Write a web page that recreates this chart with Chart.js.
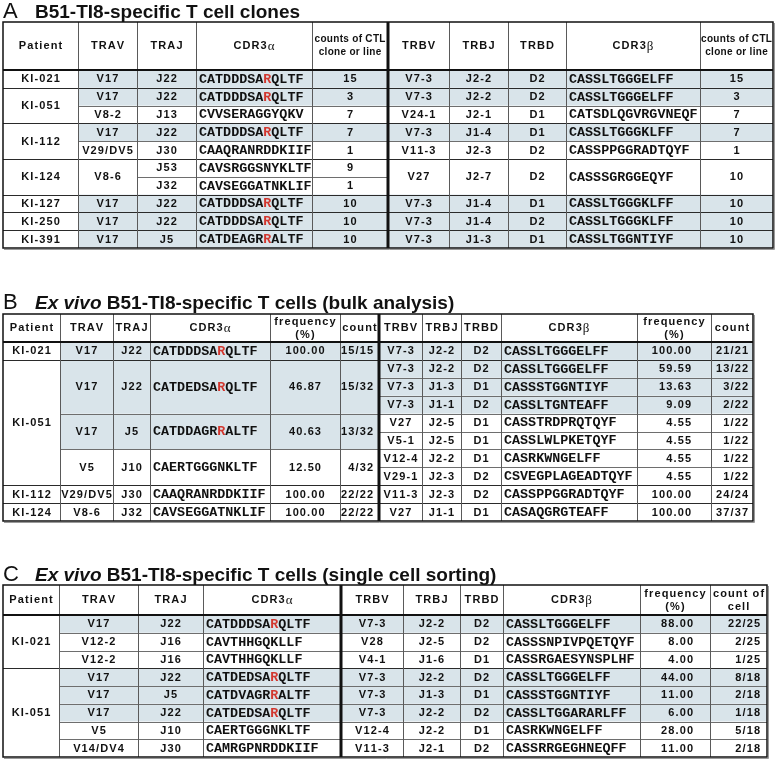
<!DOCTYPE html>
<html><head><meta charset="utf-8">
<script src="https://cdn.jsdelivr.net/npm/chart.js@4/dist/chart.umd.min.js"></script>
<style>html,body{margin:0;padding:0;background:#fff}canvas{display:block}</style>
</head><body>
<canvas id="c" width="775" height="761"></canvas>
<script>
// ================= DATA =================
// ---- Panel A : B51-TI8-specific T cell clones ----
const titleA = ["A", "", "B51-TI8-specific T cell clones"];
const headersA = ["Patient","TRAV","TRAJ","CDR3α","counts of CTL\nclone or line","TRBV","TRBJ","TRBD","CDR3β","counts of CTL\nclone or line"];
const patientA = ["KI-021","KI-051",null,"KI-112",null,"KI-124",null,"KI-127","KI-250","KI-391"];
const travA    = ["V17","V17","V8-2","V17","V29/DV5","V8-6",null,"V17","V17","V17"];
const trajA    = ["J22","J22","J13","J22","J30","J53","J32","J22","J22","J5"];
const cdr3aA   = ["CATDDDSARQLTF","CATDDDSARQLTF","CVVSERAGGYQKV","CATDDDSARQLTF","CAAQRANRDDKIIF","CAVSRGGSNYKLTF","CAVSEGGATNKLIF","CATDDDSARQLTF","CATDDDSARQLTF","CATDEAGRRALTF"];
const redA     = [8,8,-1,8,-1,-1,-1,8,8,8];
const countaA  = ["15","3","7","7","1","9","1","10","10","10"];
const trbvA    = ["V7-3","V7-3","V24-1","V7-3","V11-3","V27",null,"V7-3","V7-3","V7-3"];
const trbjA    = ["J2-2","J2-2","J2-1","J1-4","J2-3","J2-7",null,"J1-4","J1-4","J1-3"];
const trbdA    = ["D2","D2","D1","D1","D2","D2",null,"D1","D2","D1"];
const cdr3bA   = ["CASSLTGGGELFF","CASSLTGGGELFF","CATSDLQGVRGVNEQF","CASSLTGGGKLFF","CASSPPGGRADTQYF","CASSSGRGGEQYF",null,"CASSLTGGGKLFF","CASSLTGGGKLFF","CASSLTGGNTIYF"];
const countbA  = ["15","3","7","7","1","10",null,"10","10","10"];
const publicA  = [1,1,0,1,0,0,0,1,1,1];

// ---- Panel B : Ex vivo, bulk analysis ----
const titleB = ["B", "Ex vivo ", "B51-TI8-specific T cells (bulk analysis)"];
const headersB = ["Patient","TRAV","TRAJ","CDR3α","frequency\n(%)","count","TRBV","TRBJ","TRBD","CDR3β","frequency\n(%)","count"];
const patientB = ["KI-021","KI-051",null,null,null,null,null,null,"KI-112","KI-124"];
const travB    = ["V17","V17",null,null,"V17",null,"V5",null,"V29/DV5","V8-6"];
const trajB    = ["J22","J22",null,null,"J5",null,"J10",null,"J30","J32"];
const cdr3aB   = ["CATDDDSARQLTF","CATDEDSARQLTF",null,null,"CATDDAGRRALTF",null,"CAERTGGGNKLTF",null,"CAAQRANRDDKIIF","CAVSEGGATNKLIF"];
const redB     = [8,8,-1,-1,8,-1,-1,-1,-1,-1];
const freqaB   = ["100.00","46.87",null,null,"40.63",null,"12.50",null,"100.00","100.00"];
const countaB  = ["15/15","15/32",null,null,"13/32",null,"4/32",null,"22/22","22/22"];
const publicAlphaB = [1,1,1,1,1,1,0,0,0,0];
const trbvB    = ["V7-3","V7-3","V7-3","V7-3","V27","V5-1","V12-4","V29-1","V11-3","V27"];
const trbjB    = ["J2-2","J2-2","J1-3","J1-1","J2-5","J2-5","J2-2","J2-3","J2-3","J1-1"];
const trbdB    = ["D2","D2","D1","D2","D1","D1","D1","D2","D2","D1"];
const cdr3bB   = ["CASSLTGGGELFF","CASSLTGGGELFF","CASSSTGGNTIYF","CASSLTGNTEAFF","CASSTRDPRQTQYF","CASSLWLPKETQYF","CASRKWNGELFF","CSVEGPLAGEADTQYF","CASSPPGGRADTQYF","CASAQGRGTEAFF"];
const freqbB   = ["100.00","59.59","13.63","9.09","4.55","4.55","4.55","4.55","100.00","100.00"];
const countbB  = ["21/21","13/22","3/22","2/22","1/22","1/22","1/22","1/22","24/24","37/37"];
const publicBetaB = [1,1,1,1,0,0,0,0,0,0];

// ---- Panel C : Ex vivo, single cell sorting ----
const titleC = ["C", "Ex vivo ", "B51-TI8-specific T cells (single cell sorting)"];
const headersC = ["Patient","TRAV","TRAJ","CDR3α","TRBV","TRBJ","TRBD","CDR3β","frequency\n(%)","count of\ncell"];
const patientC = ["KI-021",null,null,"KI-051",null,null,null,null];
const travC    = ["V17","V12-2","V12-2","V17","V17","V17","V5","V14/DV4"];
const trajC    = ["J22","J16","J16","J22","J5","J22","J10","J30"];
const cdr3aC   = ["CATDDDSARQLTF","CAVTHHGQKLLF","CAVTHHGQKLLF","CATDEDSARQLTF","CATDVAGRRALTF","CATDEDSARQLTF","CAERTGGGNKLTF","CAMRGPNRDDKIIF"];
const redC     = [8,-1,-1,8,8,8,-1,-1];
const trbvC    = ["V7-3","V28","V4-1","V7-3","V7-3","V7-3","V12-4","V11-3"];
const trbjC    = ["J2-2","J2-5","J1-6","J2-2","J1-3","J2-2","J2-2","J2-1"];
const trbdC    = ["D2","D2","D1","D2","D1","D2","D1","D2"];
const cdr3bC   = ["CASSLTGGGELFF","CASSSNPIVPQETQYF","CASSRGAESYNSPLHF","CASSLTGGGELFF","CASSSTGGNTIYF","CASSLTGGARARLFF","CASRKWNGELFF","CASSRRGEGHNEQFF"];
const freqC    = ["88.00","8.00","4.00","44.00","11.00","6.00","28.00","11.00"];
const countC   = ["22/25","2/25","1/25","8/18","2/18","1/18","5/18","2/18"];
const publicC  = [1,0,0,1,1,1,0,0];

// ================= LAYOUT / STYLE =================
const SANS = '"Liberation Sans", Arial, sans-serif';
const MONO = '"Liberation Mono", "Courier New", monospace';
const SHADE = '#d9e4ea';
const RED = '#d2372f';

function col(x0, x1, head, data, opts) { return Object.assign({x0, x1, head, data}, opts || {}); }

const tables = [
  { title: titleA, titleY: 18, top: 22, headerH: 48, rowH: 17.8, nRows: 10, left: 3, right: 773, divider: 388, patient: patientA,
    cols: [
      col(3, 78, headersA[0], patientA, {}),
      col(78, 137, headersA[1], travA, {shade: publicA}),
      col(137, 196, headersA[2], trajA, {shade: publicA}),
      col(196, 312, headersA[3], cdr3aA, {shade: publicA, seq: true, red: redA}),
      col(312, 388, headersA[4], countaA, {shade: publicA, headSize: 10, headSp: 0.3}),
      col(388, 449, headersA[5], trbvA, {shade: publicA}),
      col(449, 508, headersA[6], trbjA, {shade: publicA}),
      col(508, 566, headersA[7], trbdA, {shade: publicA}),
      col(566, 700, headersA[8], cdr3bA, {shade: publicA, seq: true}),
      col(700, 773, headersA[9], countbA, {shade: publicA, headSize: 10, headSp: 0.3}),
    ]},
  { title: titleB, titleY: 309, top: 314, headerH: 28, rowH: 17.9, nRows: 10, left: 3, right: 753, divider: 379, patient: patientB,
    cols: [
      col(3, 60, headersB[0], patientB, {}),
      col(60, 113, headersB[1], travB, {shade: publicAlphaB}),
      col(113, 150, headersB[2], trajB, {shade: publicAlphaB}),
      col(150, 270, headersB[3], cdr3aB, {shade: publicAlphaB, seq: true, red: redB}),
      col(270, 340, headersB[4], freqaB, {shade: publicAlphaB}),
      col(340, 379, headersB[5], countaB, {shade: publicAlphaB, align: 'right', pad: 6}),
      col(379, 422, headersB[6], trbvB, {shade: publicBetaB}),
      col(422, 461, headersB[7], trbjB, {shade: publicBetaB}),
      col(461, 501, headersB[8], trbdB, {shade: publicBetaB}),
      col(501, 637, headersB[9], cdr3bB, {shade: publicBetaB, seq: true}),
      col(637, 711, headersB[10], freqbB, {shade: publicBetaB, align: 'right', pad: 20}),
      col(711, 753, headersB[11], countbB, {shade: publicBetaB, align: 'right', pad: 5}),
    ]},
  { title: titleC, titleY: 581, top: 585, headerH: 30, rowH: 17.75, nRows: 8, left: 3, right: 767, divider: 341, patient: patientC,
    cols: [
      col(3, 59, headersC[0], patientC, {}),
      col(59, 138, headersC[1], travC, {shade: publicC}),
      col(138, 203, headersC[2], trajC, {shade: publicC}),
      col(203, 341, headersC[3], cdr3aC, {shade: publicC, seq: true, red: redC}),
      col(341, 403, headersC[4], trbvC, {shade: publicC}),
      col(403, 460, headersC[5], trbjC, {shade: publicC}),
      col(460, 503, headersC[6], trbdC, {shade: publicC}),
      col(503, 640, headersC[7], cdr3bC, {shade: publicC, seq: true}),
      col(640, 710, headersC[8], freqC, {shade: publicC, align: 'right', pad: 17}),
      col(710, 767, headersC[9], countC, {shade: publicC, align: 'right', pad: 7}),
    ]},
];

// ================= DRAWING HELPERS =================
function spacedWidth(ctx, text, sp) {
  let w = 0;
  for (const ch of text) w += ctx.measureText(ch).width;
  return w + sp * Math.max(0, [...text].length - 1);
}
function drawSpaced(ctx, text, x, y, align, sp) {
  const w = spacedWidth(ctx, text, sp);
  let cx = align === 'center' ? x - w / 2 : align === 'right' ? x - w : x;
  ctx.textAlign = 'left';
  for (const ch of text) { ctx.fillText(ch, cx, y); cx += ctx.measureText(ch).width + sp; }
}
function crisp(v) { return Math.round(v) + 0.5; }

function drawTitle(ctx, sx, sy, t, T) {
  const y = sy(T.titleY);
  ctx.fillStyle = '#111';
  ctx.textBaseline = 'alphabetic';
  ctx.textAlign = 'left';
  ctx.font = '22px ' + SANS;
  ctx.fillText(t[0], sx(3), y);
  let x = sx(35);
  if (t[1]) {
    ctx.font = 'italic bold 19px ' + SANS;
    ctx.fillText(t[1], x, y);
    x += ctx.measureText(t[1]).width;
  }
  ctx.font = 'bold 19px ' + SANS;
  ctx.fillText(t[2], x, y);
}

function drawHeaderText(ctx, text, cx, cy, size, sp) {
  const lines = text.split('\n');
  const lh = 13;
  lines.forEach((ln, i) => {
    const y = cy + (i - (lines.length - 1) / 2) * lh;
    const last = ln.slice(-1);
    if (last === 'α' || last === 'β') {
      const base = ln.slice(0, -1);
      ctx.font = 'bold ' + size + 'px ' + SANS;
      const w1 = spacedWidth(ctx, base, sp) + sp;
      ctx.font = '13px "Liberation Serif", serif';
      const w2 = ctx.measureText(last).width;
      let x = cx - (w1 + w2) / 2;
      ctx.font = 'bold ' + size + 'px ' + SANS;
      drawSpaced(ctx, base, x, y, 'left', sp);
      ctx.font = '13px "Liberation Serif", serif';
      ctx.fillText(last, x + w1, y + 0.5);
    } else {
      ctx.font = 'bold ' + size + 'px ' + SANS;
      drawSpaced(ctx, ln, cx, y, 'center', sp);
    }
  });
}

function drawTable(ctx, sx, sy, T) {
  const n = T.nRows;
  const rowTop = r => T.top + T.headerH + r * T.rowH;
  const top = T.top, bot = rowTop(n);
  // merged cells per column
  T.cols.forEach(c => {
    c.cells = [];
    for (let r = 0; r < n; r++) {
      if (c.data[r] !== null) {
        let e = r + 1;
        while (e < n && c.data[e] === null) e++;
        c.cells.push({r0: r, r1: e, v: c.data[r]});
      }
    }
  });
  // group boundaries (patients)
  const groupRows = new Set();
  T.patient.forEach((p, r) => { if (p !== null && r > 0) groupRows.add(r); });

  // shading
  T.cols.forEach(c => {
    if (!c.shade) return;
    c.cells.forEach(cell => {
      if (c.shade[cell.r0]) {
        ctx.fillStyle = SHADE;
        const x0 = sx(c.x0), x1 = sx(c.x1), y0 = sy(rowTop(cell.r0)), y1 = sy(rowTop(cell.r1));
        ctx.fillRect(x0, y0, x1 - x0, y1 - y0);
      }
    });
  });

  // horizontal lines inside body
  ctx.lineWidth = 1;
  T.cols.forEach(c => {
    c.cells.forEach(cell => {
      if (cell.r1 >= n) return;
      const y = crisp(sy(rowTop(cell.r1)));
      ctx.strokeStyle = groupRows.has(cell.r1) ? '#2a2a2a' : '#6e6e6e';
      ctx.beginPath(); ctx.moveTo(sx(c.x0), y); ctx.lineTo(sx(c.x1), y); ctx.stroke();
    });
  });
  // vertical lines
  ctx.strokeStyle = '#5a5a5a';
  T.cols.forEach((c, i) => {
    if (i === 0) return;
    const x = crisp(sx(c.x0));
    ctx.beginPath(); ctx.moveTo(x, sy(top)); ctx.lineTo(x, sy(bot)); ctx.stroke();
  });
  // header bottom
  ctx.strokeStyle = '#111';
  ctx.lineWidth = 2;
  ctx.beginPath(); ctx.moveTo(sx(T.left), Math.round(sy(top + T.headerH))); ctx.lineTo(sx(T.right), Math.round(sy(top + T.headerH))); ctx.stroke();
  // outer shadow + border
  ctx.strokeStyle = '#9a9a9a';
  ctx.lineWidth = 1;
  ctx.beginPath();
  ctx.moveTo(crisp(sx(T.right) + 1), sy(top) + 1); ctx.lineTo(crisp(sx(T.right) + 1), sy(bot) + 1.5);
  ctx.lineTo(sx(T.left) + 1, crisp(sy(bot) + 1));
  ctx.stroke();
  ctx.strokeStyle = '#111';
  ctx.lineWidth = 1.5;
  ctx.strokeRect(sx(T.left), sy(top), sx(T.right) - sx(T.left), sy(bot) - sy(top));
  // thick divider
  ctx.lineWidth = 3;
  ctx.beginPath(); ctx.moveTo(sx(T.divider), sy(top)); ctx.lineTo(sx(T.divider), sy(bot)); ctx.stroke();

  // text
  ctx.fillStyle = '#111';
  ctx.textBaseline = 'middle';
  T.cols.forEach(c => {
    drawHeaderText(ctx, c.head, sx((c.x0 + c.x1) / 2), sy(top + T.headerH / 2), c.headSize || 11, c.headSp !== undefined ? c.headSp : 1.1);
    c.cells.forEach(cell => {
      const cy = sy((rowTop(cell.r0) + rowTop(cell.r1)) / 2) + 0.5;
      if (c.seq) {
        ctx.font = 'bold 13.4px ' + MONO;
        ctx.textAlign = 'left';
        let x = sx(c.x0 + 3);
        const redIdx = c.red ? c.red[cell.r0] : -1;
        [...cell.v].forEach((ch, k) => {
          ctx.fillStyle = k === redIdx ? RED : '#111';
          ctx.fillText(ch, x, cy);
          x += ctx.measureText(ch).width;
        });
        ctx.fillStyle = '#111';
      } else {
        ctx.font = 'bold 11px ' + SANS;
        const align = c.align || 'center';
        const x = align === 'center' ? sx((c.x0 + c.x1) / 2) : sx(c.x1 - (c.pad || 4));
        drawSpaced(ctx, cell.v, x, cy, align, 1.1);
      }
    });
  });
}

const tablePlugin = {
  id: 'tables',
  beforeDraw(chart) {
    const ctx = chart.ctx;
    ctx.save();
    ctx.fillStyle = '#fff';
    ctx.fillRect(0, 0, chart.width, chart.height);
    ctx.restore();
  },
  afterDraw(chart) {
    const ctx = chart.ctx;
    const xs = chart.scales.x, ys = chart.scales.y;
    const sx = v => xs.getPixelForValue(v);
    const sy = v => ys.getPixelForValue(v);
    ctx.save();
    tables.forEach(T => { drawTitle(ctx, sx, sy, T.title, T); drawTable(ctx, sx, sy, T); });
    ctx.restore();
  }
};

new Chart(document.getElementById('c'), {
  type: 'scatter',
  data: { datasets: [] },
  options: {
    responsive: false,
    animation: false,
    devicePixelRatio: 1,
    layout: { padding: 0 },
    plugins: { legend: { display: false }, tooltip: { enabled: false } },
    scales: {
      x: { type: 'linear', min: 0, max: 775, display: false },
      y: { type: 'linear', min: 0, max: 761, reverse: true, display: false }
    }
  },
  plugins: [tablePlugin]
});
</script>
</body></html>
